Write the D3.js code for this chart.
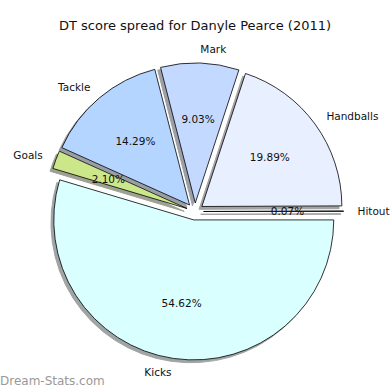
<!DOCTYPE html>
<meta charset="utf-8">
<style>
body { margin: 0; background: #fff; }
text { font-family: "DejaVu Sans", sans-serif; }
</style>
<body>
<script src="https://d3js.org/d3.v7.min.js"></script>
<script>

// chart values, in the order the pie is drawn (counter-clockwise from 3 o'clock)
var categories = ["Hitout", "Handballs", "Mark", "Tackle", "Goals", "Kicks"];
var values = [0.07, 19.89, 9.03, 14.29, 2.10, 54.62];
var pctLabels = ["0.07%", "19.89%", "9.03%", "14.29%", "2.10%", "54.62%"];
var colors = ["#f0e6e6", "#e8f0ff", "#c4d9ff", "#b4d5ff", "#cce68a", "#d9ffff"];

var width = 390, height = 390;
var cx = 195, cy = 211.5, radius = 140, explode = 8.5;

var svg = d3.select("body").append("svg")
    .attr("width", width)
    .attr("height", height);

svg.append("text")
    .attr("x", width / 2)
    .attr("y", 30)
    .attr("text-anchor", "middle")
    .attr("font-size", "13px")
    .attr("fill", "#111")
    .text("DT score spread for Danyle Pearce (2011)");

// start at 3 o'clock and go counter-clockwise, like matplotlib
var pie = d3.pie()
    .sort(null)
    .startAngle(Math.PI / 2)
    .endAngle(Math.PI / 2 - 2 * Math.PI);

var arcs = pie(values);
var arc = d3.arc().innerRadius(0).outerRadius(radius);

// shift each slice outward along its middle angle
function offset(d, r) {
  var a = (d.startAngle + d.endAngle) / 2;
  return [Math.sin(a) * r, -Math.cos(a) * r];
}

var g = svg.append("g").attr("transform", "translate(" + cx + "," + cy + ")");

// shadows go below all the wedges
g.selectAll(".shadow")
    .data(arcs)
  .enter().append("path")
    .attr("class", "shadow")
    .attr("d", arc)
    .attr("transform", function(d) {
      var o = offset(d, explode);
      return "translate(" + (o[0] - 2.8) + "," + (o[1] + 2.8) + ")";
    })
    .attr("fill", function(d, i) {
      var c = d3.rgb(colors[i]);
      return d3.rgb(c.r * 0.3, c.g * 0.3, c.b * 0.3);
    })
    .attr("stroke", function(d, i) {
      var c = d3.rgb(colors[i]);
      return d3.rgb(c.r * 0.3, c.g * 0.3, c.b * 0.3);
    })
    .attr("stroke-width", 1)
    .attr("opacity", 0.5);

g.selectAll(".wedge")
    .data(arcs)
  .enter().append("path")
    .attr("class", "wedge")
    .attr("d", arc)
    .attr("transform", function(d) {
      var o = offset(d, explode);
      return "translate(" + o[0] + "," + o[1] + ")";
    })
    .attr("fill", function(d, i) { return colors[i]; })
    .attr("stroke", "#000")
    .attr("stroke-width", 0.8);

// category labels at 1.1 radius
g.selectAll(".label")
    .data(arcs)
  .enter().append("text")
    .attr("class", "label")
    .attr("x", function(d) { var o = offset(d, explode + radius * 1.1); return o[0]; })
    .attr("y", function(d) { var o = offset(d, explode + radius * 1.1); return o[1]; })
    .attr("text-anchor", function(d) { return offset(d, 1)[0] > 0 ? "start" : "end"; })
    .attr("dominant-baseline", "central")
    .attr("font-size", "10.5px")
    .attr("fill", "#111")
    .text(function(d, i) { return categories[i]; });

// percentages at 0.6 radius
g.selectAll(".pct")
    .data(arcs)
  .enter().append("text")
    .attr("class", "pct")
    .attr("x", function(d) { return offset(d, explode + radius * 0.6)[0]; })
    .attr("y", function(d) { return offset(d, explode + radius * 0.6)[1]; })
    .attr("text-anchor", "middle")
    .attr("dominant-baseline", "central")
    .attr("font-size", "10.5px")
    .attr("fill", "#111")
    .text(function(d, i) { return pctLabels[i]; });

// watermark
svg.append("text")
    .attr("x", 0)
    .attr("y", 385)
    .attr("font-size", "12px")
    .attr("fill", "#999")
    .text("Dream-Stats.com");

</script>
</body>
